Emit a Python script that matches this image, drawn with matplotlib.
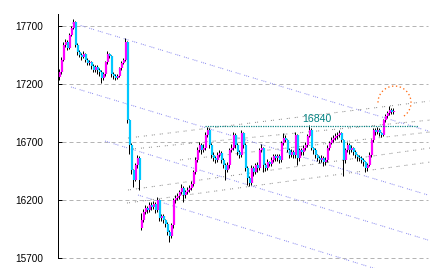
import numpy as np
import matplotlib as mpl
mpl.use("Agg")
import matplotlib.pyplot as plt

# --- data ----------------------------------------------------------------
close = [
    17303, 17407, 17536, 17562, 17510, 17622, 17683, 17734, 17536, 17476,
    17450, 17433, 17459, 17407, 17381, 17389, 17355, 17321, 17346, 17321,
    17303, 17252, 17286, 17389, 17459, 17441, 17286, 17269, 17252, 17269,
    17338, 17381, 17407, 17562, 16889, 16674, 16458, 16372, 16502, 16562,
    16372, 16027, 16096, 16131, 16114, 16157, 16139, 16165, 16114, 16200,
    16044, 16062, 16027, 15993, 15924, 15889, 15984, 16200, 16217, 16234,
    16269, 16303, 16243, 16269, 16286, 16303, 16338, 16441, 16545, 16631,
    16674, 16631, 16648, 16760, 16803, 16674, 16588, 16562, 16545, 16588,
    16605, 16545, 16502, 16458, 16502, 16631, 16648, 16760, 16674, 16614,
    16588, 16777, 16674, 16476, 16390, 16346, 16476, 16441, 16502, 16476,
    16631, 16648, 16502, 16476, 16527, 16510, 16545, 16579, 16562, 16579,
    16545, 16691, 16734, 16717, 16631, 16588, 16614, 16588, 16760, 16562,
    16631, 16614, 16648, 16674, 16752, 16803, 16648, 16631, 16588, 16562,
    16545, 16562, 16527, 16545, 16648, 16691, 16717, 16734, 16752, 16760,
    16777, 16717, 16545, 16631, 16674, 16631, 16648, 16614, 16588, 16571,
    16562, 16545, 16527, 16476, 16502, 16588, 16717, 16803, 16786, 16803,
    16777, 16760, 16889, 16924, 16950, 16976, 16959, 16967,
]
high = [
    17330, 17430, 17560, 17590, 17580, 17640, 17700, 17760, 17745, 17550,
    17490, 17470, 17480, 17470, 17420, 17410, 17400, 17370, 17360, 17360,
    17340, 17320, 17300, 17400, 17480, 17470, 17450, 17300, 17290, 17290,
    17350, 17400, 17420, 17600, 17570, 16900, 16690, 16470, 16520, 16590,
    16580, 16090, 16120, 16160, 16150, 16180, 16180, 16190, 16180, 16230,
    16210, 16080, 16080, 16040, 16010, 15940, 16000, 16220, 16240, 16260,
    16290, 16340, 16320, 16290, 16310, 16330, 16360, 16460, 16570, 16660,
    16700, 16690, 16680, 16790, 16830, 16820, 16690, 16610, 16580, 16610,
    16630, 16620, 16560, 16520, 16530, 16650, 16680, 16790, 16780, 16690,
    16630, 16800, 16790, 16690, 16490, 16410, 16500, 16490, 16520, 16530,
    16650, 16680, 16660, 16520, 16550, 16540, 16570, 16600, 16600, 16600,
    16600, 16710, 16780, 16760, 16730, 16650, 16640, 16630, 16790, 16770,
    16650, 16650, 16670, 16700, 16770, 16850, 16820, 16660, 16650, 16600,
    16580, 16590, 16580, 16570, 16670, 16710, 16740, 16760, 16780, 16790,
    16800, 16790, 16730, 16650, 16700, 16690, 16670, 16660, 16630, 16600,
    16590, 16580, 16560, 16540, 16520, 16610, 16730, 16820, 16820, 16830,
    16820, 16790, 16900, 16940, 16970, 17010, 16990, 16990,
]
low = [
    17230, 17290, 17400, 17520, 17490, 17500, 17610, 17670, 17520, 17450,
    17430, 17410, 17420, 17390, 17360, 17360, 17330, 17300, 17300, 17290,
    17270, 17210, 17230, 17270, 17370, 17420, 17260, 17240, 17230, 17240,
    17260, 17320, 17370, 17400, 16860, 16600, 16420, 16310, 16360, 16480,
    16290, 15940, 16010, 16080, 16090, 16100, 16110, 16120, 16090, 16100,
    16020, 16020, 16000, 15970, 15900, 15840, 15870, 15960, 16170, 16200,
    16210, 16250, 16180, 16220, 16250, 16270, 16290, 16320, 16420, 16530,
    16610, 16600, 16610, 16630, 16740, 16650, 16560, 16540, 16520, 16530,
    16570, 16520, 16480, 16370, 16440, 16480, 16610, 16630, 16650, 16590,
    16560, 16570, 16650, 16450, 16330, 16320, 16330, 16410, 16420, 16440,
    16460, 16610, 16440, 16450, 16460, 16490, 16490, 16530, 16540, 16540,
    16520, 16530, 16670, 16700, 16610, 16560, 16570, 16560, 16560, 16500,
    16540, 16590, 16590, 16630, 16660, 16740, 16630, 16600, 16560, 16540,
    16520, 16530, 16490, 16500, 16530, 16630, 16680, 16700, 16720, 16730,
    16740, 16700, 16410, 16520, 16610, 16600, 16610, 16590, 16560, 16540,
    16540, 16520, 16490, 16440, 16450, 16490, 16570, 16700, 16760, 16770,
    16750, 16740, 16750, 16870, 16910, 16930, 16940, 16940,
]
first_open = 17260
gap_open = {41: 15958}          # gap down after the big drop

grid_levels = [15700, 16200, 16700, 17200, 17700]
resistance = 16840

# trend lines: (x0, y0, x1, y1) in bar index / price
down_lines = [
    (6.5, 17726, 184.5, 16795),
    (6.0, 17174, 184.5, 16243),
    (23.0, 16708, 184.5, 15855),
    (39.5, 16243, 184.5, 15467),
]
up_lines = [
    (34.5, 16734, 185.5, 17053),
    (37.0, 16640, 185.5, 16889),
    (60.5, 16545, 185.5, 16786),
    (34.5, 16286, 185.5, 16648),
    (34.0, 16174, 185.5, 16527),
]

# marker circle round the last bars: centre (bar, price), half sizes
circle_c = (167.75, 17040)
circle_r = (8.25, 142)

# --- style ---------------------------------------------------------------
UP = "#ff00ff"
DOWN = "#00c8ff"
TEAL = "#008080"
BLUE = "#8c8cf0"
GRAY = "#8a8a8a"
GRID = "#b4b4b4"
ORANGE = "#ff6a10"

DPI = 72
fig = plt.figure(figsize=(433 / DPI, 272 / DPI), dpi=DPI)
ax = fig.add_axes([58 / 433, 4 / 272, 372 / 433, 254 / 272])
ax.set_xlim(-0.5, 185.5)
ax.set_ylim(15614, 17803)

ax.hlines(grid_levels, 1.5, 184.5, colors=GRID, lw=1,
          linestyles=(0, (4, 3)), zorder=1)

for x0, y0, x1, y1 in down_lines:
    ax.plot([x0, x1], [y0, y1], color=BLUE, lw=1,
            ls=(0, (1, 1, 1, 1, 1, 4)), zorder=2)
for x0, y0, x1, y1 in up_lines:
    ax.plot([x0, x1], [y0, y1], color=GRAY, lw=1,
            ls=(0, (1, 1, 1, 5)), zorder=2)

# bars: open is the previous close unless there was a gap
n = len(close)
idx = np.arange(n)
opens = np.array([first_open] + close[:-1], dtype=float)
for k, v in gap_open.items():
    opens[k] = v
close_a = np.array(close, dtype=float)
up = close_a >= opens

ax.vlines(idx - 0.25, low, high, colors="black", lw=1, zorder=3)
ax.vlines(idx[up] + 0.3, opens[up], close_a[up], colors=UP, lw=2.2,
          zorder=4)
ax.vlines(idx[~up] + 0.3, opens[~up], close_a[~up], colors=DOWN, lw=2.2,
          zorder=4)

ax.hlines(resistance, 73, 179.5, colors=TEAL, lw=1.2,
          linestyles=(0, (1, 1)), zorder=5)
ax.text(121.5, resistance + 35, f"{resistance}", color=TEAL,
        fontsize=10.5, family="Liberation Sans", ha="left", va="baseline",
        zorder=6)

# open circle drawn as a parametric curve (Arc distorts angles here)
t = np.deg2rad(np.linspace(-55, 188, 120))
ax.plot(circle_c[0] + circle_r[0] * np.cos(t),
        circle_c[1] + circle_r[1] * np.sin(t),
        color=ORANGE, lw=1.3, ls=(0, (1, 2)), zorder=6)

for s in ("top", "right", "bottom"):
    ax.spines[s].set_visible(False)
ax.spines["left"].set_bounds(15700, 17803)
ax.spines["left"].set_linewidth(1)
ax.set_xticks([])
ax.set_yticks(grid_levels)
ax.tick_params(axis="y", direction="in", length=4, width=1, pad=15,
               labelsize=10)
for lbl in ax.get_yticklabels():
    lbl.set_family("Liberation Sans")
ax.set_facecolor("white")
fig.patch.set_facecolor("white")

fig.savefig("out.png", dpi=DPI)
